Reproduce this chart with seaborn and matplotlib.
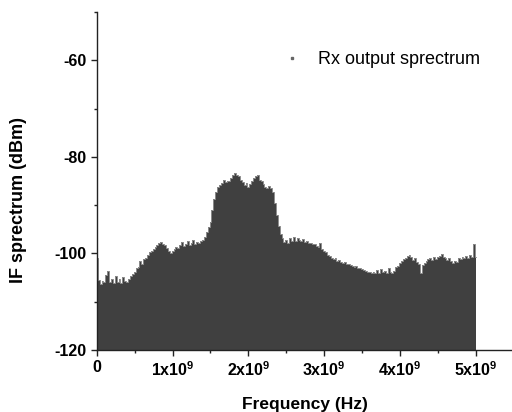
import numpy as np
import matplotlib
matplotlib.use("Agg")
import matplotlib.pyplot as plt
from matplotlib.lines import Line2D
from matplotlib.ticker import MultipleLocator
import seaborn as sns

# IF spectrum, one value every 0.025 GHz from 0 to 5 GHz
if_dbm = [
    -101.0, -105.5, -106.3, -105.8, -106.0, -104.5, -103.6, -106.0, -105.3, -106.1,
    -104.6, -105.9, -105.2, -106.2, -104.8, -105.8, -106.0, -105.2, -104.6, -104.3,
    -103.8, -103.0, -102.8, -101.5, -102.2, -101.2, -100.9, -100.3, -99.8, -99.5,
    -99.1, -98.6, -98.2, -97.9, -97.7, -98.0, -98.3, -98.9, -99.6, -99.9,
    -99.6, -99.0, -98.6, -98.8, -98.3, -97.6, -98.4, -98.0, -97.5, -98.2,
    -97.8, -97.2, -98.0, -97.6, -97.9, -97.4, -97.2, -96.5, -95.5, -94.6,
    -93.5, -91.0, -88.8, -87.2, -86.3, -85.8, -85.5, -84.8, -85.3, -84.9,
    -85.1, -84.3, -83.8, -83.4, -83.7, -84.0, -84.8, -85.2, -85.8, -85.5,
    -86.2, -85.6, -84.9, -84.4, -83.9, -83.7, -84.8, -85.1, -85.6, -86.2,
    -86.5, -86.0, -86.5, -87.2, -89.6, -92.0, -94.4, -96.0, -96.9, -97.6,
    -97.3, -97.8, -96.8, -97.5, -96.5, -97.4, -96.9, -97.2, -97.5, -97.1,
    -97.6, -97.4, -97.8, -97.9, -98.1, -98.0, -98.4, -98.6, -97.8, -99.0,
    -99.5, -99.8, -100.3, -100.6, -101.0, -101.2, -101.0, -101.5, -101.4, -101.7,
    -101.9, -101.7, -102.2, -102.1, -102.5, -102.6, -102.8, -102.7, -103.0, -103.1,
    -103.3, -103.4, -103.6, -103.8, -103.9, -104.0, -103.9, -104.1, -103.4, -104.0,
    -103.2, -103.9, -103.7, -104.1, -103.0, -103.9, -104.0, -103.6, -102.9, -102.6,
    -102.0, -101.6, -101.2, -100.9, -100.5, -100.3, -100.8, -101.4, -101.0, -101.8,
    -102.2, -104.0, -102.4, -102.0, -101.6, -101.2, -101.0, -101.4, -100.8, -101.2,
    -100.7, -100.5, -100.2, -100.8, -101.0, -101.4, -100.9, -101.6, -101.9, -101.5,
    -101.8, -101.0, -101.2, -100.8, -101.0, -100.6, -100.9, -100.4, -100.7, -98.1,
    -100.7,
]
freq_hz = np.linspace(0, 5e9, len(if_dbm))

xtick_values = [0, 1e9, 2e9, 3e9, 4e9, 5e9]
xtick_labels = ['0', '1x10$^{9}$', '2x10$^{9}$', '3x10$^{9}$', '4x10$^{9}$', '5x10$^{9}$']
ytick_values = [-120, -100, -80, -60]
series_label = 'Rx output sprectrum'

sns.set_style('ticks')
plt.rcParams['font.family'] = ['Liberation Sans', 'DejaVu Sans']
plt.rcParams['axes.unicode_minus'] = False
plt.rcParams['text.color'] = 'black'
plt.rcParams['axes.labelcolor'] = 'black'
plt.rcParams['xtick.color'] = 'black'
plt.rcParams['ytick.color'] = 'black'
plt.rcParams['mathtext.fontset'] = 'custom'
plt.rcParams['mathtext.rm'] = 'Liberation Sans:bold'
plt.rcParams['mathtext.bf'] = 'Liberation Sans:bold'
plt.rcParams['mathtext.default'] = 'bf'

fig = plt.figure(figsize=(5.12, 4.12), dpi=100)
ax = fig.add_axes([0.189, 0.1505, 0.8143, 0.8204])

fill_color = '#404040'
sns.lineplot(x=freq_hz, y=if_dbm, ax=ax, color='#8c8c8c', lw=0.7, drawstyle='steps-mid')
ax.fill_between(freq_hz, if_dbm, -120, step='mid', color=fill_color, lw=0)

ax.set_xlim(0, 5.5e9)
ax.set_ylim(-120, -50)
ax.set_xticks(xtick_values)
ax.set_xticklabels(xtick_labels)
ax.set_yticks(ytick_values)
ax.xaxis.set_minor_locator(MultipleLocator(0.5e9))
ax.yaxis.set_minor_locator(MultipleLocator(10))

ax.tick_params(which='major', direction='out', length=4.5, width=1.0, pad=3,
               labelsize=11.5, color='#222222', labelcolor='black')
ax.tick_params(which='minor', direction='out', length=2.5, width=1.0, color='#222222')
for lab in ax.get_xticklabels() + ax.get_yticklabels():
    lab.set_fontweight('bold')

for side in ['top', 'right']:
    ax.spines[side].set_visible(False)
for side in ['left', 'bottom']:
    ax.spines[side].set_linewidth(1.0)
    ax.spines[side].set_color('#222222')

ax.set_xlabel('Frequency (Hz)', fontsize=12.5, fontweight='bold', color='black')
ax.set_ylabel('IF sprectrum (dBm)', fontsize=13, fontweight='bold', color='black')
ax.xaxis.set_label_coords(0.5, -0.138)
ax.yaxis.set_label_coords(-0.167, 0.444)

handle = Line2D([], [], marker='s', markersize=2.0, color='#666666', linestyle='none')
leg = ax.legend([handle], [series_label], loc='center left', bbox_to_anchor=(0.45, 0.858),
                frameon=False, fontsize=13, handlelength=0.8, handletextpad=1.06,
                borderpad=0, borderaxespad=0)
for t in leg.get_texts():
    t.set_color('black')

fig.savefig('out.png', dpi=100)
